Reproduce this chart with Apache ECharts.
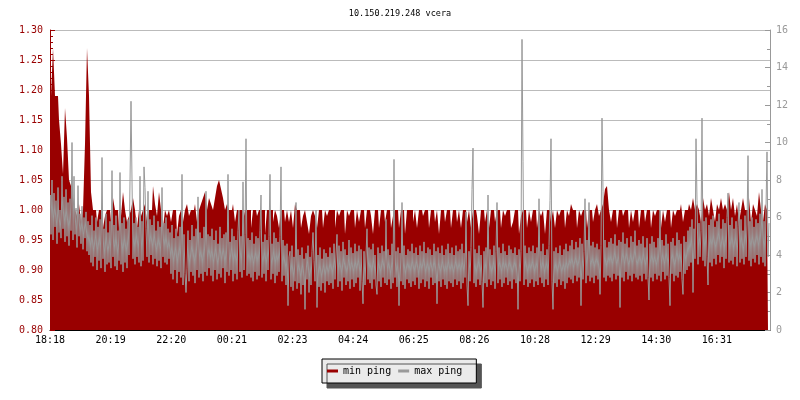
<!DOCTYPE html>
<html>
<head>
<meta charset="utf-8">
<script src="https://cdn.jsdelivr.net/npm/echarts@6/dist/echarts.min.js"></script>
<style>html,body{margin:0;padding:0;background:#fff}#c{width:800px;height:400px}</style>
</head>
<body>
<div id="c"></div>
<script>
// sample spacing in minutes, starting at 18:18
var MIN_STEP = 4;   // min ping samples
var MAX_STEP = 2;   // max ping samples
var MAX_OFFSET = 1; // max ping samples are taken on the odd minute
var tickLabels = ['18:18','20:19','22:20','00:21','02:23','04:24','06:25','08:26','10:28','12:29','14:30','16:31'];
var TICK_MIN = 121.25;

var minPing = [
1.16,1.19,1.27,1.19,1.19,1.15,1.11,1.06,1.17,1.12,1.05,1.04,1.02,1.00,0.99,1.01,0.98,1.00,1.11,1.27,
1.19,1.03,1.00,1.00,0.98,1.00,1.00,0.97,0.99,1.00,1.00,0.98,1.02,1.00,1.00,0.97,0.99,1.03,1.00,0.98,
0.99,1.00,1.02,1.00,0.97,1.00,0.99,1.00,1.01,0.98,1.00,1.00,1.04,1.01,0.99,1.03,1.00,0.97,1.00,0.99,
1.00,0.98,1.00,1.00,0.96,0.99,1.00,0.98,1.00,1.01,0.99,1.00,1.00,1.01,0.98,1.00,1.01,1.02,1.03,1.00,
1.02,1.01,1.00,1.02,1.04,1.05,1.035,1.02,1.00,1.01,1.00,1.00,1.01,0.98,1.00,1.00,1.00,0.98,1.00,1.00,
1.00,0.97,1.00,1.00,0.99,1.00,1.00,1.00,0.96,1.00,1.00,1.00,0.98,1.00,0.99,0.97,1.00,1.00,0.98,1.00,
0.98,1.00,0.97,1.01,1.00,1.00,0.97,0.99,1.00,0.98,0.96,0.99,1.00,0.99,0.97,1.00,1.00,0.97,1.00,0.99,
1.00,1.00,1.00,0.97,1.00,0.99,1.00,1.00,0.96,1.00,0.99,1.00,1.00,0.97,1.00,0.98,1.00,1.00,0.97,1.00,
1.00,0.99,0.96,1.00,1.00,0.97,1.00,1.00,0.98,1.00,1.00,0.97,0.99,1.00,1.00,0.97,1.00,1.00,0.96,1.00,
1.00,1.00,0.98,1.00,0.97,1.00,1.00,0.99,1.00,1.00,0.97,1.00,1.00,0.98,1.00,0.96,1.00,1.00,0.98,1.00,
1.00,0.97,1.00,1.00,0.98,1.00,0.97,1.00,1.00,0.98,1.00,0.97,1.00,1.00,0.99,0.96,1.00,1.00,0.98,1.00,
0.97,1.00,1.00,0.98,1.00,1.00,0.97,1.00,0.99,1.00,1.00,0.97,0.98,1.00,1.00,0.96,0.99,1.00,1.00,0.97,
1.00,0.98,1.00,1.00,0.97,1.00,0.99,1.00,0.96,1.00,1.00,0.98,1.00,0.97,1.00,0.99,1.00,1.00,0.97,1.00,
0.99,1.01,1.00,1.00,0.97,1.00,0.99,1.00,1.00,0.97,1.00,1.00,0.98,1.00,1.01,0.99,1.00,1.01,1.035,1.04,
1.00,0.98,1.00,1.00,0.97,1.00,1.00,0.99,1.00,1.00,0.97,1.00,0.98,1.00,1.00,0.97,1.00,1.00,0.98,1.00,
1.00,0.97,1.00,0.99,1.00,1.00,0.97,1.00,0.98,1.00,1.00,0.97,1.00,0.99,1.00,1.00,1.01,0.98,1.00,1.00,
1.01,1.00,1.02,1.00,1.01,1.00,0.98,1.02,1.00,1.01,0.99,1.02,1.00,0.98,1.01,1.00,1.02,1.00,1.01,1.00,
1.03,1.00,1.02,0.99,1.01,0.98,1.00,1.02,1.00,1.00,1.02,0.98,1.01,1.00,0.99,1.03,1.00,0.98,1.01,1.00
];

var maxPing = [
7.2,5.1,8.0,4.8,7.3,5.5,6.9,4.6,7.6,5.2,6.4,4.9,8.2,5.4,7.1,4.7,7.5,5.0,6.8,4.5,7.0,5.3,10.0,4.8,8.2,5.1,6.5,4.4,7.7,5.0,6.2,4.6,6.6,4.3,6.0,4.9,6.3,4.2,5.8,4.0,
5.6,3.6,6.1,3.4,5.3,3.9,6.0,3.2,5.5,3.7,5.9,3.3,9.2,3.8,5.4,3.1,6.2,3.5,5.2,3.6,5.8,3.3,8.5,3.9,5.6,3.4,6.1,3.2,5.3,3.7,8.4,3.5,5.7,3.1,6.0,3.6,5.4,3.3,5.9,4.0,
7.9,12.2,12.3,3.8,5.7,3.5,6.0,3.9,5.5,3.6,8.2,3.4,5.8,3.7,8.7,7.6,5.4,3.9,7.4,3.6,5.9,4.0,5.6,3.5,6.1,3.8,5.3,3.4,5.8,3.7,5.5,3.3,7.6,3.9,5.7,3.6,6.0,3.5,5.4,3.8,
5.2,3.0,5.6,2.7,4.9,3.2,5.4,2.5,5.0,3.1,5.5,2.8,8.3,2.4,5.1,3.0,2.0,3.3,5.3,2.6,4.8,3.1,5.6,2.9,5.0,2.5,5.4,3.2,7.1,2.8,5.2,3.0,4.9,2.6,5.5,3.1,7.4,2.9,5.1,3.3,
5.0,2.9,5.4,2.6,4.8,3.2,5.3,2.7,4.6,3.0,5.5,2.8,4.9,3.3,5.1,2.5,5.2,3.1,8.3,2.9,4.7,3.2,5.4,2.6,5.0,3.0,4.8,2.7,5.3,6.4,3.1,5.0,2.8,7.9,3.2,5.1,10.2,2.9,4.9,3.0,
4.8,2.8,5.2,2.6,4.6,3.1,5.0,2.7,4.9,2.9,5.3,7.2,2.8,4.7,3.0,5.1,2.6,4.8,3.2,5.0,8.3,2.7,4.6,3.0,5.2,2.5,4.9,2.9,4.7,3.1,5.0,8.7,2.6,4.8,2.9,4.5,2.4,4.6,1.3,3.9,
4.2,2.3,4.5,2.1,3.9,2.6,6.8,2.2,4.3,2.5,4.0,1.9,4.4,2.4,3.8,1.1,4.1,2.7,4.5,2.0,3.9,2.4,4.2,5.2,3.7,2.6,6.4,1.2,4.0,2.3,4.4,2.1,3.8,2.5,4.3,2.0,4.1,2.6,3.9,2.4,
4.4,2.5,4.1,2.2,4.6,2.7,4.0,5.1,2.3,4.5,2.6,4.2,2.1,4.7,2.8,4.3,2.4,4.0,2.6,4.8,2.2,4.4,2.7,4.1,2.3,4.6,2.5,4.2,2.8,4.5,2.1,4.3,2.6,1.4,4.2,2.4,4.0,5.4,2.7,4.4,
2.5,4.3,2.2,4.6,2.7,4.0,2.4,1.9,4.4,2.6,4.1,2.3,4.5,2.8,4.2,2.5,5.9,2.4,4.3,2.7,4.0,2.2,4.6,2.5,9.1,2.8,4.2,2.3,4.4,1.3,4.1,2.6,6.8,2.4,4.5,2.2,4.0,2.7,4.3,2.5,
4.2,2.3,4.6,2.6,4.1,2.4,4.4,2.8,4.0,2.2,4.5,2.5,4.2,2.7,4.7,2.3,4.1,2.6,4.4,2.2,4.3,2.8,4.0,2.4,4.6,2.5,4.2,1.4,4.4,2.6,4.1,2.3,4.5,2.7,4.0,2.4,4.3,2.2,4.6,2.6,
4.1,2.5,4.4,2.3,4.0,2.7,4.5,2.4,4.2,2.6,4.3,2.2,4.6,2.5,4.1,2.8,6.3,2.4,1.3,4.2,2.6,4.4,7.5,9.7,2.5,4.3,2.3,4.1,2.7,4.5,2.4,4.0,2.6,1.2,4.2,2.5,4.4,2.3,7.2,2.7,
4.3,2.4,4.0,2.6,4.5,2.2,4.2,6.8,2.5,4.4,2.7,4.1,2.3,4.6,2.5,4.2,2.8,4.0,2.4,4.5,2.6,4.3,2.2,4.1,2.7,4.4,2.5,4.0,1.1,4.3,2.6,4.2,15.5,9.0,2.4,4.5,2.7,4.1,2.3,4.4,
2.5,4.2,2.7,4.5,2.3,4.1,2.6,4.4,2.4,7.0,2.8,4.2,2.5,4.6,2.3,4.0,2.7,4.3,2.4,4.5,6.9,10.2,2.6,1.1,4.2,2.5,4.4,2.3,4.1,2.7,4.5,2.4,4.0,2.6,4.3,2.2,4.6,2.5,4.2,2.8,
4.5,2.7,4.8,2.5,4.3,2.9,4.7,2.6,4.4,2.8,4.9,1.3,4.6,2.7,4.2,7.0,2.5,4.8,2.9,6.8,2.6,4.5,2.8,4.7,2.5,4.4,2.9,4.6,2.7,4.3,1.9,4.5,11.3,7.4,2.8,4.8,2.6,4.4,2.9,4.7,
2.8,4.9,2.6,4.6,3.0,5.1,2.7,4.5,2.9,4.8,1.2,4.7,2.8,5.2,2.6,4.6,3.1,4.9,2.7,4.4,2.9,5.0,2.6,4.7,3.0,5.3,2.8,4.5,2.7,4.8,2.9,4.6,2.6,5.0,3.0,4.4,2.7,4.9,2.8,1.6,
4.6,2.8,5.0,2.6,4.7,3.0,4.4,2.7,4.9,2.9,6.4,2.6,4.8,3.1,4.5,2.7,5.1,2.9,4.6,2.8,1.3,4.7,3.0,4.9,2.6,4.5,2.9,5.2,2.8,4.8,3.1,4.6,2.7,1.9,5.0,3.0,4.7,3.2,5.3,3.4,
5.5,3.6,5.9,2.0,5.4,3.8,10.2,6.9,3.5,5.7,3.9,5.3,11.3,3.7,5.8,3.4,6.0,3.9,2.4,5.6,3.6,5.9,3.4,6.1,3.8,5.5,3.5,5.8,4.0,6.2,3.6,5.4,3.9,5.9,3.3,5.7,3.8,6.0,7.3,3.6,
5.6,3.7,6.0,3.5,5.4,3.9,5.8,3.4,5.5,6.8,3.6,5.9,3.8,5.3,3.5,6.1,3.9,5.6,9.3,3.7,5.8,3.4,6.0,3.8,5.5,3.6,5.9,4.0,5.7,3.5,6.2,3.9,7.5,3.6,5.8,3.4,6.5,9.5,3.9,5.7
];

var minData = minPing.map(function (v, i) { return [i * MIN_STEP, v]; });
var maxData = maxPing.map(function (v, i) { return [i * MAX_STEP + MAX_OFFSET, v]; });

var FONT = 'DejaVu Sans Mono';
var chart = echarts.init(document.getElementById('c'), null, { renderer: 'canvas' });
chart.setOption({
  animation: false,
  backgroundColor: '#ffffff',
  title: {
    text: '10.150.219.248 vcera',
    left: 'center',
    top: 4,
    textStyle: { fontFamily: FONT, fontSize: 8.5, fontWeight: 'normal', color: '#000' }
  },
  legend: {
    left: 322,
    top: 359,
    icon: 'rect',
    itemWidth: 11,
    itemHeight: 3,
    itemGap: 7,
    padding: [7, 14, 7, 5],
    backgroundColor: '#ebebeb',
    borderColor: '#000',
    borderWidth: 1,
    borderRadius: 0,
    shadowColor: '#555',
    shadowBlur: 0,
    shadowOffsetX: 5,
    shadowOffsetY: 5,
    textStyle: { fontFamily: FONT, fontSize: 10, color: '#000' },
    data: ['min ping', 'max ping']
  },
  grid: { left: 50, right: 30, top: 30, bottom: 70, containLabel: false },
  xAxis: {
    type: 'value',
    min: 0,
    max: 1440,
    interval: TICK_MIN,
    axisLine: { show: true, lineStyle: { color: '#000', width: 1 } },
    axisTick: { show: true, inside: true, length: 5, lineStyle: { color: '#000' } },
    splitLine: { show: false },
    axisLabel: {
      showMaxLabel: false,
      fontFamily: FONT, fontSize: 10, color: '#000', margin: 5,
      formatter: function (v) {
        var k = Math.round(v / TICK_MIN);
        if (Math.abs(v - k * TICK_MIN) > 0.01) return '';
        return tickLabels[k] || '';
      }
    }
  },
  yAxis: [
    {
      type: 'value',
      min: 0.8,
      max: 1.3,
      interval: 0.05,
      position: 'left',
      axisLine: { show: true, lineStyle: { color: '#990000' } },
      axisTick: { show: true, inside: true, length: 5, lineStyle: { color: '#990000' } },
      minorTick: { show: true, splitNumber: 5, length: 3, lineStyle: { color: '#990000' } },
      splitLine: { show: true, lineStyle: { color: '#bbbbbb', width: 1 } },
      axisLabel: {
        fontFamily: FONT, fontSize: 10, color: '#990000', margin: 7,
        formatter: function (v) { return v.toFixed(2); }
      }
    },
    {
      type: 'value',
      min: 0,
      max: 16,
      interval: 2,
      position: 'right',
      axisLine: { show: true, lineStyle: { color: '#999999' } },
      axisTick: { show: true, inside: true, length: 5, lineStyle: { color: '#999999' } },
      minorTick: { show: true, splitNumber: 2, length: 3, lineStyle: { color: '#999999' } },
      splitLine: { show: false },
      axisLabel: { fontFamily: FONT, fontSize: 10, color: '#999999', margin: 6 }
    }
  ],
  series: [
    {
      name: 'min ping',
      type: 'line',
      yAxisIndex: 0,
      data: minData,
      step: 'middle',
      showSymbol: false,
      symbol: 'none',
      color: '#990000',
      lineStyle: { color: '#990000', width: 0 },
      areaStyle: { color: '#990000', opacity: 1, origin: 'start' },
      z: 2
    },
    {
      name: 'max ping',
      type: 'line',
      yAxisIndex: 1,
      data: maxData,
      step: 'middle',
      showSymbol: false,
      symbol: 'none',
      color: '#999999',
      lineStyle: { color: '#999999', width: 1 },
      z: 3
    }
  ]
});
</script>
</body>
</html>
